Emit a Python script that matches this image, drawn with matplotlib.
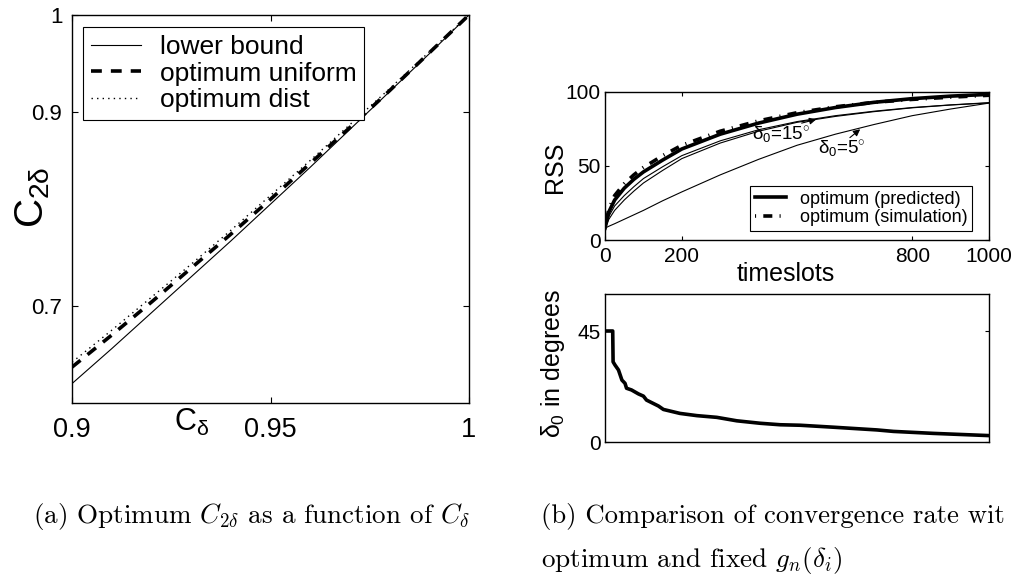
import matplotlib
matplotlib.use("Agg")
import matplotlib.pyplot as plt

plt.rcParams['font.family'] = ['Liberation Sans', 'DejaVu Sans']
plt.rcParams['mathtext.fontset'] = 'custom'
plt.rcParams['mathtext.rm'] = 'Liberation Sans'
plt.rcParams['mathtext.it'] = 'Liberation Sans'
plt.rcParams['mathtext.bf'] = 'Liberation Sans:bold'

# (a) C_2delta vs C_delta
c_delta = [0.90, 0.91, 0.92, 0.93, 0.94, 0.95, 0.96, 0.97, 0.98, 0.99, 1.00]
lower_bound = [0.620, 0.656, 0.693, 0.730, 0.767, 0.805, 0.843, 0.882, 0.921, 0.960, 1.000]
opt_uniform = [0.637, 0.670, 0.704, 0.739, 0.774, 0.810, 0.847, 0.884, 0.922, 0.961, 1.000]
opt_dist = [0.642, 0.675, 0.709, 0.743, 0.778, 0.814, 0.850, 0.887, 0.924, 0.962, 1.000]

# (b) RSS vs timeslots
t_rss = [0, 10, 25, 50, 75, 100, 150, 200, 300, 400, 500, 600, 700, 800, 900, 1000]
rss_pred = [8, 19, 27, 35, 41, 46, 54, 61.5, 71.5, 79, 85, 89.5, 93, 95.5, 97.2, 98.4]
rss_sim = [8, 21, 30, 38, 44, 49, 57, 64, 73.5, 80.5, 86, 90, 93, 95, 96.5, 97.8]
rss_15a = [8, 16, 23, 30, 36, 41.5, 49.5, 57, 67, 74.5, 80, 84, 87, 89.5, 91.3, 92.8]
rss_15b = [8, 14, 20, 27, 33, 38.5, 47, 55, 65.5, 73.5, 79.5, 83.5, 86.7, 89.3, 91.2, 92.6]
rss_5 = [8, 9.3, 11, 14, 17, 20, 26.5, 32.5, 44, 54.5, 64, 71.5, 78, 84, 88.5, 92.5]

# delta_0 vs timeslots
t_d = [0, 20, 21, 26, 35, 44, 52, 56, 69, 87, 100, 108, 139, 152, 195, 239, 291,
       343, 404, 456, 508, 595, 708, 751, 855, 1000]
d0 = [45, 45, 32.5, 31.2, 29.2, 25.1, 23.8, 21.8, 21.1, 19.5, 18.6, 17, 14.6, 13.2,
      11.6, 10.7, 10, 8.6, 7.6, 7.0, 6.8, 6.0, 4.9, 4.3, 3.5, 2.6]

fig = plt.figure(figsize=(10.16, 5.8), dpi=100)

# ---- panel (a)
ax = fig.add_axes([0.0709, 0.3052, 0.3907, 0.669])
ax.plot(c_delta, lower_bound, color='k', lw=0.8, label='lower bound')
ax.plot(c_delta, opt_uniform, color='k', lw=2.6, ls=(0, (3, 2.5)), label='optimum uniform')
ax.plot(c_delta, opt_dist, color='k', lw=1.0, ls=(0, (1, 3)), label='optimum dist')
ax.set_xlim(0.9, 1)
ax.set_ylim(0.6, 1)
ax.set_xticks([0.9, 0.95, 1])
ax.set_xticklabels(['0.9', '0.95', '1'])
ax.set_yticks([0.7, 0.9, 1])
ax.set_yticklabels(['0.7', '0.9', '1'])
ax.tick_params(direction='in', top=True, right=True, length=4)
ax.tick_params(axis='x', pad=10, labelsize=19.5)
ax.tick_params(axis='y', pad=7, labelsize=16)
ax.set_xlabel(r'$C_{\delta}$', fontsize=22)
ax.xaxis.set_label_coords(0.3, -0.01)
ax.set_ylabel(r'$C_{2\delta}$', fontsize=29)
ax.yaxis.set_label_coords(-0.05, 0.53)
leg = ax.legend(loc='upper left', bbox_to_anchor=(0.028, 0.969), borderaxespad=0,
                fontsize=19, handlelength=1.9, fancybox=False, framealpha=1,
                edgecolor='k', borderpad=0.3, labelspacing=0.1, handletextpad=0.7)
leg.get_frame().set_linewidth(0.8)

# ---- panel (b) top
ax2 = fig.add_axes([0.5955, 0.5862, 0.378, 0.2552])
ax2.plot(t_rss, rss_5, color='k', lw=0.8)
ax2.plot(t_rss, rss_15b, color='k', lw=0.8)
ax2.plot(t_rss, rss_15a, color='k', lw=0.8)
ax2.plot(t_rss, rss_pred, color='k', lw=2.6, label='optimum (predicted)')
ax2.plot(t_rss, rss_sim, color='k', lw=2.6, ls=(0, (0.3, 2, 2.5, 2)), label='optimum (simulation)')
ax2.set_xlim(0, 1000)
ax2.set_ylim(0, 100)
ax2.set_xticks([0, 200, 800, 1000])
ax2.set_yticks([0, 50, 100])
ax2.tick_params(direction='in', top=True, right=True, length=3, labelsize=15)
ax2.tick_params(axis='x', pad=5)
ax2.tick_params(axis='y', pad=3)
ax2.set_xlabel('timeslots', fontsize=18)
ax2.xaxis.set_label_coords(0.47, -0.15)
ax2.set_ylabel('RSS', fontsize=18)
ax2.yaxis.set_label_coords(-0.1, 0.49)
ax2.text(383, 67.5, r'$\delta_0$=15$^{\circ}$', fontsize=13.5)
ax2.annotate('', xy=(557, 82), xytext=(505, 78.5),
             arrowprops=dict(arrowstyle='-|>', color='k', lw=0.8, mutation_scale=10))
ax2.text(555, 57.5, r'$\delta_0$=5$^{\circ}$', fontsize=13.5)
ax2.annotate('', xy=(670, 76), xytext=(632, 68),
             arrowprops=dict(arrowstyle='-|>', color='k', lw=0.8, mutation_scale=10))
leg2 = ax2.legend(loc='lower right', bbox_to_anchor=(0.956, 0.061), borderaxespad=0,
                  fontsize=13, handlelength=1.7, fancybox=False, framealpha=1,
                  edgecolor='k', borderpad=0.25, labelspacing=0.1, handletextpad=0.8)
leg2.get_frame().set_linewidth(0.8)

# ---- panel (b) bottom
ax3 = fig.add_axes([0.5955, 0.2379, 0.378, 0.2552])
ax3.plot(t_d, d0, color='k', lw=2.6)
ax3.set_xlim(0, 1000)
ax3.set_ylim(0, 60)
ax3.set_xticks([])
ax3.set_yticks([0, 45])
ax3.tick_params(direction='in', right=True, length=3, labelsize=15, pad=3)
ax3.set_ylabel(r'$\delta_0$ in degrees', fontsize=18)
ax3.yaxis.set_label_coords(-0.1, 0.53)

for a in (ax, ax2, ax3):
    for s in a.spines.values():
        s.set_linewidth(1.0)

# captions (the (b) caption is cut at the right edge in the source figure)
fig.text(0.032, 0.11, r'(a) Optimum $C_{2\delta}$ as a function of $C_\delta$',
         fontsize=19.5, family='cmr10', math_fontfamily='cm', va='center')
fig.text(0.532, 0.11, r'(b) Comparison of convergence rate wit',
         fontsize=19.2, family='cmr10', math_fontfamily='cm', va='center')
fig.text(0.532, 0.034, r'optimum and fixed $g_n(\delta_i)$',
         fontsize=19.5, family='cmr10', math_fontfamily='cm', va='center')

fig.savefig('out.png', dpi=100)
